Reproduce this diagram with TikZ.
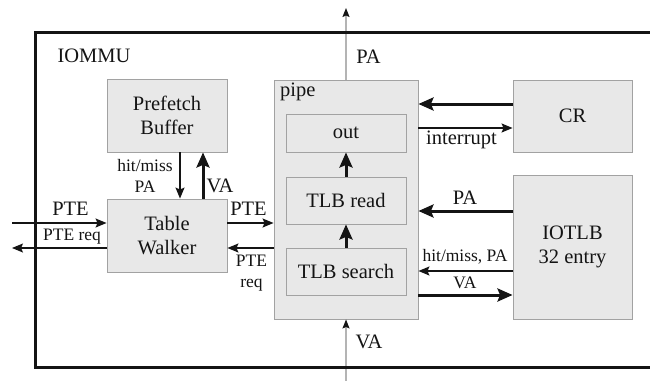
\documentclass[tikz,border=0pt]{standalone}
\usepackage{fontspec}
\setmainfont{Liberation Serif}
\usetikzlibrary{arrows.meta}
\definecolor{ink}{HTML}{141414}
\definecolor{boxfill}{HTML}{E8E8E8}
\definecolor{boxline}{HTML}{A2A2A2}
\definecolor{wire}{HTML}{B4B4B4}
\begin{document}
\begin{tikzpicture}[x=1pt,y=-1pt,
  blk/.style={draw=boxline, fill=boxfill, line width=0.9pt, align=center,
    inner sep=0pt, text=ink, font=\fontsize{20.5}{24}\selectfont},
  big/.style={font=\fontsize{20.5}{24}\selectfont, inner sep=0pt, text=ink, align=center},
  small/.style={font=\fontsize{17.5}{21}\selectfont, inner sep=0pt, text=ink, align=center},
  thickarr/.style={draw=ink, line width=3pt, -{Stealth[length=15pt,width=13pt,inset=2.5pt]}},
  thinarr/.style={draw=ink, line width=1.3pt, -{Stealth[length=11pt,width=9pt,inset=2pt]}},
  grayarr/.style={draw=wire, line width=1.3pt, -{Stealth[length=9pt,width=7pt,inset=1.5pt,color=ink]}}]
\useasboundingbox (0,0) rectangle (650,380);

% blocks
\node[blk, minimum width=120pt, minimum height=73pt] (pf) at (167,115.5) {Prefetch\\Buffer};
\node[blk, minimum width=120pt, minimum height=73pt] (tw) at (167,235.5) {Table\\Walker};
\node[blk, minimum width=144pt, minimum height=239pt] (pipe) at (346,199.5) {};
\node[big, anchor=west] (pipelbl) at (280,91.5) {pipe};
\node[blk, minimum width=120pt, minimum height=38pt] (out) at (346,133) {out};
\node[blk, minimum width=120pt, minimum height=47pt] (rd) at (346,200.5) {TLB read};
\node[blk, minimum width=120pt, minimum height=47pt] (sr) at (346,271.5) {TLB search};
\node[blk, minimum width=119pt, minimum height=72pt] (cr) at (572.5,116) {CR};
\node[blk, minimum width=119pt, minimum height=144pt] (tlb) at (572.5,247) {IOTLB\\32 entry};

% external ends
\coordinate (paout) at (346,8);
\coordinate (vain) at (346,381);
\coordinate (pteL) at (12,223);
\coordinate (reqL) at (12,248);

% addresses leaving and entering the pipe
\draw[grayarr] (pipe.north) -- (paout);
\draw[grayarr] (vain) -- (pipe.south);
\node[big] (palbl) at (368.5,57) {PA};
\node[big] (valbl) at (369,342) {VA};

% IOMMU boundary
\draw[draw=ink, line width=3pt] (652,32) -- (35,32) -- (35,367) -- (652,367);
\node[big] (iommu) at (94,56) {IOMMU};

% pipe stages
\draw[thickarr] (rd.north) -- (out.south);
\draw[thickarr] (sr.north) -- (rd.south);

% pipe <-> CR
\draw[thickarr] (cr.west |- 0,104) -- (pipe.east |- 0,104);
\draw[thinarr] (pipe.east |- 0,128) -- (cr.west |- 0,128);
\node[big] (intlbl) at (461.5,140) {interrupt};

% pipe <-> IOTLB
\draw[thickarr] (tlb.west |- 0,211) -- (pipe.east |- 0,211);
\node[big] (pa2) at (465,198) {PA};
\draw[thinarr] (tlb.west |- 0,271) -- (pipe.east |- 0,271);
\node[small] (hm2) at (465,257) {hit/miss, PA};
\draw[thickarr] (pipe.east |- 0,295) -- (tlb.west |- 0,295);
\node[small] (va2) at (465,283) {VA};

% prefetch buffer <-> table walker
\draw[thinarr] (pf.south -| 180,0) -- (tw.north -| 180,0);
\node[small] (hm1) at (145,176) {hit/miss\\PA};
\draw[thickarr] (tw.north -| 203,0) -- (pf.south -| 203,0);
\node[big] (va1) at (220,186) {VA};

% table walker <-> outside
\draw[thinarr] (pteL) -- (tw.west |- pteL);
\node[big] (pte1) at (70.5,209) {PTE};
\draw[thinarr] (tw.west |- reqL) -- (reqL);
\node[small] (req1) at (72,237) {PTE req};

% table walker <-> pipe
\draw[thinarr] (tw.east |- 0,223) -- (pipe.west |- 0,223);
\node[big] (pte2) at (248.5,209) {PTE};
\draw[thinarr] (pipe.west |- 0,248) -- (tw.east |- 0,248);
\node[small] (req2) at (251.5,273) {PTE\\req};
\end{tikzpicture}
\end{document}
